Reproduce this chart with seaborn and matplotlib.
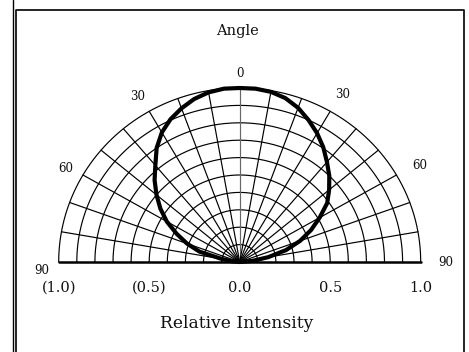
import numpy as np
import pandas as pd
import matplotlib.pyplot as plt
import seaborn as sns

# radiation pattern (left side negative angles)
angles = [-90, -85, -80, -75, -70, -65, -60, -55, -50, -45, -40, -35, -30, -25,
          -20, -15, -10, -5, 0, 5, 10, 15, 20, 25, 30, 35, 40, 45, 50, 55, 60,
          65, 70, 75, 80, 85, 90]
intensity = [0.0, 0.045, 0.10, 0.23, 0.31, 0.385, 0.465, 0.535, 0.60, 0.665,
             0.725, 0.80, 0.86, 0.905, 0.94, 0.97, 0.99, 1.0, 1.0, 1.0, 0.993,
             0.975, 0.943, 0.90, 0.855, 0.805, 0.75, 0.70, 0.645, 0.59, 0.51,
             0.435, 0.355, 0.265, 0.16, 0.07, 0.0]

tick_pos = [-1.0, -0.5, 0.0, 0.5, 1.0]
tick_labels = ['(1.0)', '(0.5)', '0.0', '0.5', '1.0']
angle_labels = ['90', '60', '30', '0', '30', '60', '90']

sns.set_style('white')
plt.rcParams['font.family'] = ['DejaVu Serif']

df = pd.DataFrame({'angle': angles, 'r': intensity})
th = np.radians(df['angle'])
df['x'] = df['r'] * np.sin(th)
df['y'] = df['r'] * np.cos(th)

fig = plt.figure(figsize=(4.69, 3.52), dpi=100)
ax = fig.add_axes([58.7 / 469, 90 / 352, 362 / 469, 174 / 352])
ax.set_xlim(-1, 1)
ax.set_ylim(0, 1)
ax.axis('off')

# polar grid
t = np.linspace(-np.pi / 2, np.pi / 2, 200)
for rr in np.arange(0.1, 1.01, 0.1):
    ax.plot(rr * np.sin(t), rr * np.cos(t), color='black', lw=0.85, zorder=1)
for a in range(-80, 81, 10):
    c = '#666666' if a == 0 else 'black'
    ax.plot([0, np.sin(np.radians(a))], [0, np.cos(np.radians(a))],
            color=c, lw=0.85, zorder=1)
ax.plot([-1, 1], [0, 0], color='black', lw=1.8, zorder=2, clip_on=False)

sns.lineplot(data=df, x='x', y='y', sort=False, estimator=None,
             color='black', lw=3.0, ax=ax, zorder=3)
for ln in ax.lines:
    ln.set_clip_on(False)
    ln.set_solid_joinstyle('round')

# angle labels
pos = [(-1.094, -0.046), (-0.96, 0.539), (-0.564, 0.95), (0.0, 1.086),
       (0.569, 0.96), (0.993, 0.553), (1.14, 0.0)]
for (px, py), lab in zip(pos, angle_labels):
    ax.text(px, py, lab, ha='center', va='center', fontsize=8.5, color='#111111')

for xp, lab in zip(tick_pos, tick_labels):
    fig.text((58.7 + (xp + 1) * 181) / 469, 1 - 287.5 / 352, lab,
             ha='center', va='center', fontsize=10.5, color='#111111')

fig.text(237 / 469, 1 - 31 / 352, 'Angle', ha='center', va='center',
         fontsize=10.5, color='#111111')
fig.text(237 / 469, 1 - 323 / 352, 'Relative Intensity', ha='center',
         va='center', fontsize=12.3, color='#111111')

# frame
fig.add_artist(plt.Line2D([12.5 / 469, 12.5 / 469], [0, 1], color='black',
                          lw=1.0, transform=fig.transFigure))
fig.add_artist(plt.Line2D([16 / 469, 16 / 469, 463.5 / 469, 463.5 / 469],
                          [0, 1 - 10 / 352, 1 - 10 / 352, 0], color='black',
                          lw=1.2, transform=fig.transFigure))

fig.savefig('out.png', dpi=100)
